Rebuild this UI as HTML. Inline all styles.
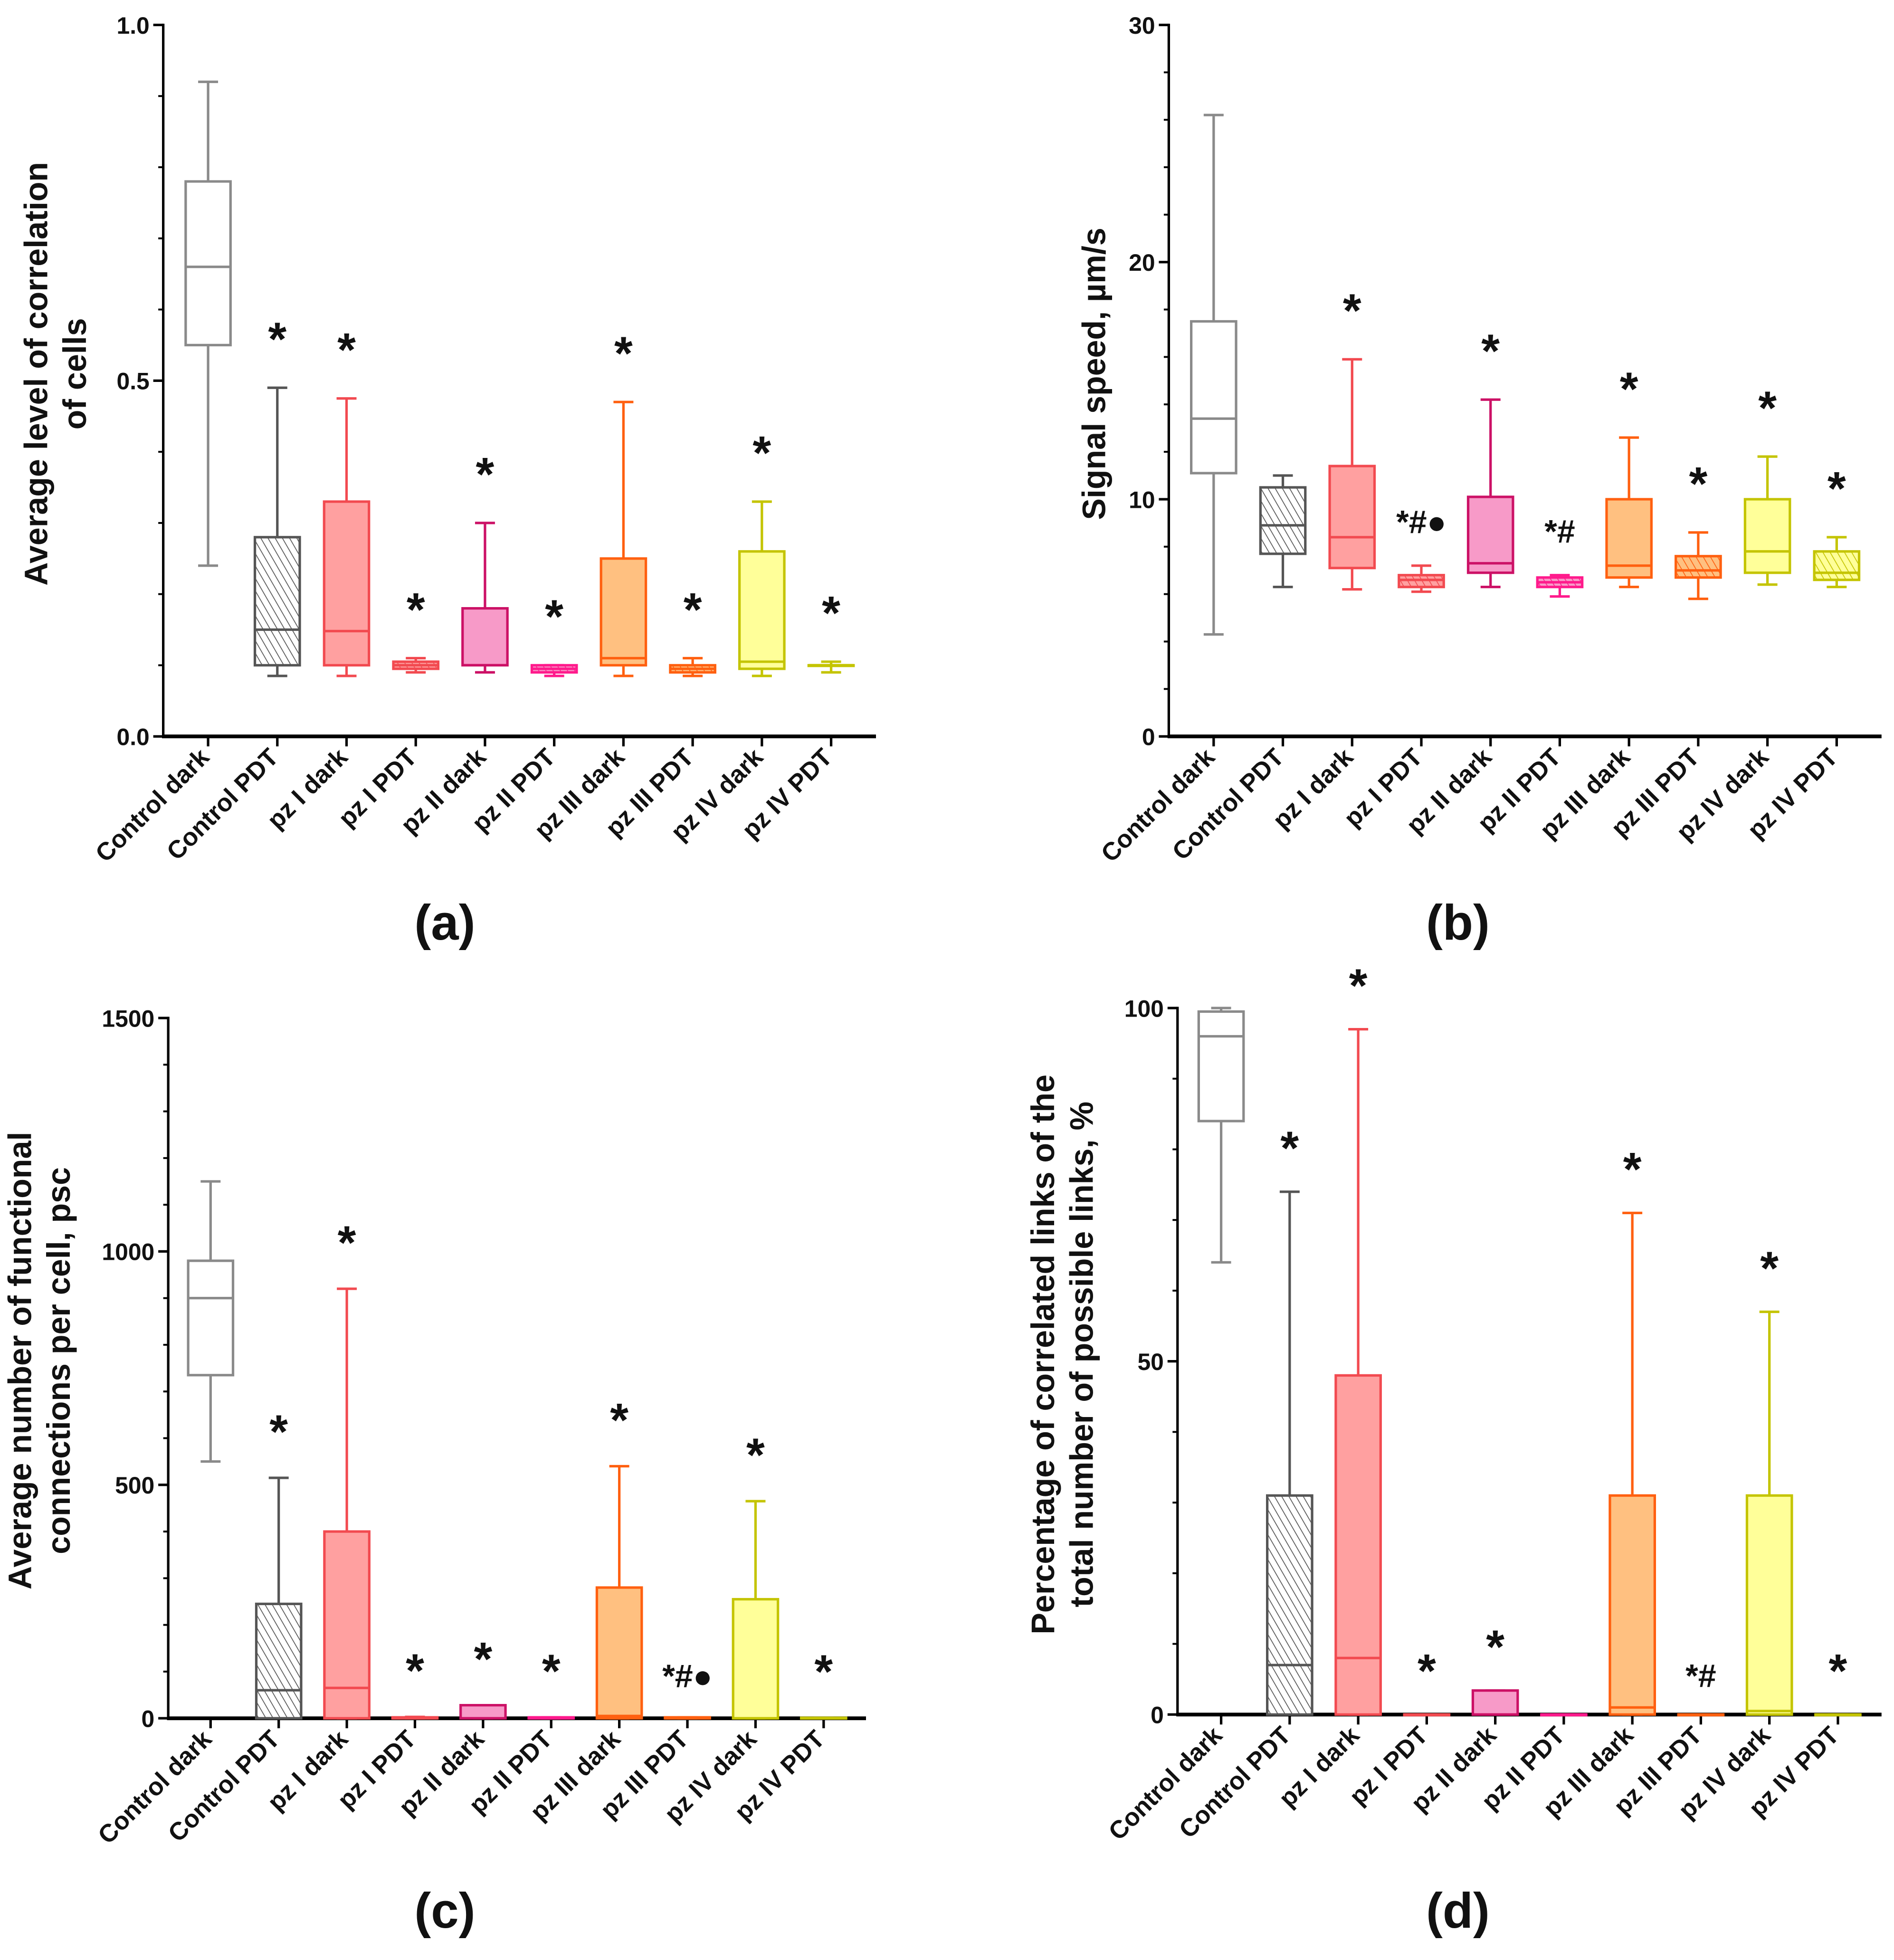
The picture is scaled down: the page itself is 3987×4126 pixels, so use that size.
<!DOCTYPE html>
<html><head><meta charset="utf-8"><style>
html,body{margin:0;padding:0;background:#fff}
svg{display:block}
text{font-family:"Liberation Sans",sans-serif;font-weight:bold;fill:#111}
</style></head><body>
<svg id="fig" width="3987" height="4126" viewBox="0 0 1520 1573" xmlns="http://www.w3.org/2000/svg">
<defs id="defs"></defs>
</svg>
<script>
// shared categories
const categories = ["Control dark","Control PDT","pz I dark","pz I PDT","pz II dark","pz II PDT","pz III dark","pz III PDT","pz IV dark","pz IV PDT"];
// annotations per category (panel-specific)
const starsA = ["","*","*","*","*","*","*","*","*","*"];
const starsB = ["","","*","*#●","*","*#","*","*","*","*"];
const starsC = ["","*","*","*","*","*","*","*#●","*","*"];
const starsD = ["","*","*","*","*","","*","*#","*","*"];
// panel a: [min,q1,median,q3,max]
const minA = [0.24,0.085,0.085,0.09,0.09,0.085,0.085,0.085,0.085,0.09];
const q1A  = [0.55,0.10,0.10,0.095,0.10,0.09,0.10,0.09,0.095,0.10];
const medA = [0.66,0.15,0.148,0.10,0.10,0.095,0.11,0.095,0.105,0.10];
const q3A  = [0.78,0.28,0.33,0.105,0.18,0.10,0.25,0.10,0.26,0.10];
const maxA = [0.92,0.49,0.475,0.11,0.30,0.10,0.47,0.11,0.33,0.105];
const ticksA = [0,0.5,1.0];
const tickLabelsA = ["0.0","0.5","1.0"];
// panel b
const minB = [4.3,6.3,6.2,6.1,6.3,5.9,6.3,5.8,6.4,6.3];
const q1B  = [11.1,7.7,7.1,6.3,6.9,6.3,6.7,6.7,6.9,6.6];
const medB = [13.4,8.9,8.4,6.6,7.3,6.5,7.2,7.0,7.8,6.9];
const q3B  = [17.5,10.5,11.4,6.8,10.1,6.7,10.0,7.6,10.0,7.8];
const maxB = [26.2,11.0,15.9,7.2,14.2,6.8,12.6,8.6,11.8,8.4];
const ticksB = [0,10,20,30];
const tickLabelsB = ["0","10","20","30"];
// panel c
const minC = [550,0,0,0,0,0,0,0,0,0];
const q1C  = [735,0,0,0,0,0,0,0,0,0];
const medC = [900,60,65,0,0,0,5,0,0,0];
const q3C  = [980,245,400,2,28,2,280,2,255,1];
const maxC = [1150,515,920,3,28,2,540,2,465,1];
const ticksC = [0,500,1000,1500];
const tickLabelsC = ["0","500","1000","1500"];
// panel d
const minD = [64,0,0,0,0,0,0,0,0,0];
const q1D  = [84,0,0,0,0,0,0,0,0,0];
const medD = [96,7,8,0,0,0,1,0,0.5,0];
const q3D  = [99.5,31,48,0,3.4,0,31,0,31,0];
const maxD = [100,74,97,0,3.4,0,71,0,57,0];
const ticksD = [0,50,100];
const tickLabelsD = ["0","50","100"];

const strokes = ["#8a8a8a","#555555","#f24a50","#f24a50","#cc1166","#ff1a8c","#ff6010","#ff6010","#c4c400","#c4c400"];
const fills   = ["#ffffff","#ffffff","#ffa0a0","#ffa0a0","#f79ac8","#f79ac8","#ffc080","#ffc080","#ffff99","#ffff99"];
const NS="http://www.w3.org/2000/svg";
const svg=document.getElementById('fig');
const defs=document.getElementById('defs');
function mk(tag,attrs,parent){const e=document.createElementNS(NS,tag);for(const k in attrs)e.setAttribute(k,attrs[k]);(parent||svg).appendChild(e);return e;}
// hatch patterns
categories.forEach((c,i)=>{
  const p=mk('pattern',{id:'h'+i,patternUnits:'userSpaceOnUse',width:5,height:5,patternTransform:'rotate(-30)'},defs);
  mk('rect',{x:0,y:0,width:5,height:5,fill:i===1?'#ffffff':fills[i]},p);
  mk('line',{x1:0,y1:0,x2:0,y2:5,stroke:strokes[i],'stroke-width':1.3},p);
});

function panel(cfg){
  const g=mk('g',{});
  
  
  const y=v=>cfg.y0-(v-cfg.vmin)/(cfg.vmax-cfg.vmin)*(cfg.y0-cfg.y1);
  const n=categories.length;
  const step=(cfg.xEnd-cfg.x0-cfg.pad*2)/(n-1);
  const x=i=>cfg.x0+cfg.pad+i*step;
  const ya=mk('line',{x1:cfg.x0,y1:cfg.y1-1,x2:cfg.x0,y2:cfg.y0+1,stroke:'#000','stroke-width':2},g);
  
  const xa=mk('line',{x1:cfg.x0-1,y1:cfg.y0,x2:cfg.xEnd,y2:cfg.y0,stroke:'#000','stroke-width':3},g);
  
  for(let v=cfg.vmin;v<=cfg.vmax+1e-9;v+=cfg.minor){
    mk('line',{x1:cfg.x0-4,y1:y(v),x2:cfg.x0,y2:y(v),stroke:'#000','stroke-width':1.5},g);
  }
  cfg.ticks.forEach((t,k)=>{
    mk('line',{x1:cfg.x0-8,y1:y(t),x2:cfg.x0,y2:y(t),stroke:'#000','stroke-width':2},g);
    const tl=mk('text',{x:cfg.x0-11,y:y(t)+7,'text-anchor':'end','font-size':19},g);
    tl.textContent=cfg.tickLabels[k];
    
  });
  const tt=mk('text',{transform:`translate(${cfg.tx},${cfg.ty}) rotate(-90)`,'text-anchor':'middle','font-size':26},g);
  
  cfg.title.forEach((line,k)=>{const ts=mk('tspan',{x:0,dy:k===0?0:31},tt);ts.textContent=line;});
  const bw=36;
  categories.forEach((c,i)=>{
    const cx=x(i);
    mk('line',{x1:cx,y1:cfg.y0,x2:cx,y2:cfg.y0+8,stroke:'#000','stroke-width':2},g);
    const lab=mk('text',{transform:`translate(${cx+2},${cfg.y0+18}) rotate(-45)`,'text-anchor':'end','font-size':20},g);
    lab.textContent=c;
    
    const bg=mk('g',{},g);
    
    
    const s=strokes[i];
    const hatched=(i%2===1);
    const fill=hatched?`url(#h${i})`:fills[i];
    mk('line',{x1:cx,y1:y(cfg.mx[i]),x2:cx,y2:y(cfg.q3[i]),stroke:s,'stroke-width':2},bg);
    mk('line',{x1:cx,y1:y(cfg.q1[i]),x2:cx,y2:y(cfg.mn[i]),stroke:s,'stroke-width':2},bg);
    mk('line',{x1:cx-8,y1:y(cfg.mx[i]),x2:cx+8,y2:y(cfg.mx[i]),stroke:s,'stroke-width':2},bg);
    mk('line',{x1:cx-8,y1:y(cfg.mn[i]),x2:cx+8,y2:y(cfg.mn[i]),stroke:s,'stroke-width':2},bg);
    const top=y(cfg.q3[i]),bot=y(cfg.q1[i]);
    mk('rect',{x:cx-bw/2,y:top,width:bw,height:Math.max(bot-top,0.5),fill:fill,stroke:s,'stroke-width':2},bg);
    mk('line',{x1:cx-bw/2,y1:y(cfg.md[i]),x2:cx+bw/2,y2:y(cfg.md[i]),stroke:s,'stroke-width':2},bg);
    if(cfg.stars[i]){
      const st=mk('text',{x:cx,y:y(cfg.mx[i])-cfg.off+20,'text-anchor':'middle','font-size':cfg.stars[i].length>1?26:38},g);
      st.textContent=cfg.stars[i];
      
    }
  });
  const cap=mk('text',{x:cfg.capx,y:cfg.capy,'text-anchor':'middle','font-size':40},g);
  cap.textContent=cfg.cap;
  
}
panel({name:'panel-a',x0:131,xEnd:703,pad:36,y0:591,y1:20,vmin:0,vmax:1,minor:0.1,ticks:ticksA,tickLabels:tickLabelsA,
  mn:minA,q1:q1A,md:medA,q3:q3A,mx:maxA,stars:starsA,off:46,tx:38,ty:300,title:["Average level of correlation","of cells"],cap:"(a)",capx:357,capy:754});
panel({name:'panel-b',x0:938,xEnd:1510,pad:36,y0:591,y1:20,vmin:0,vmax:30,minor:2,ticks:ticksB,tickLabels:tickLabelsB,
  mn:minB,q1:q1B,md:medB,q3:q3B,mx:maxB,stars:starsB,off:46,tx:887,ty:300,title:["Signal speed, µm/s"],cap:"(b)",capx:1170,capy:754});
panel({name:'panel-c',x0:135,xEnd:695,pad:34,y0:1379,y1:817,vmin:0,vmax:1500,minor:100,ticks:ticksC,tickLabels:tickLabelsC,
  mn:minC,q1:q1C,md:medC,q3:q3C,mx:maxC,stars:starsC,off:44,tx:25,ty:1092,title:["Average number of functional","connections per cell, psc"],cap:"(c)",capx:357,capy:1547});
panel({name:'panel-d',x0:945,xEnd:1510,pad:35,y0:1376,y1:809,vmin:0,vmax:100,minor:10,ticks:ticksD,tickLabels:tickLabelsD,
  mn:minD,q1:q1D,md:medD,q3:q3D,mx:maxD,stars:starsD,off:42,tx:846,ty:1087,title:["Percentage of correlated links of the","total number of possible links, %"],cap:"(d)",capx:1170,capy:1547});
</script>
</body></html>
